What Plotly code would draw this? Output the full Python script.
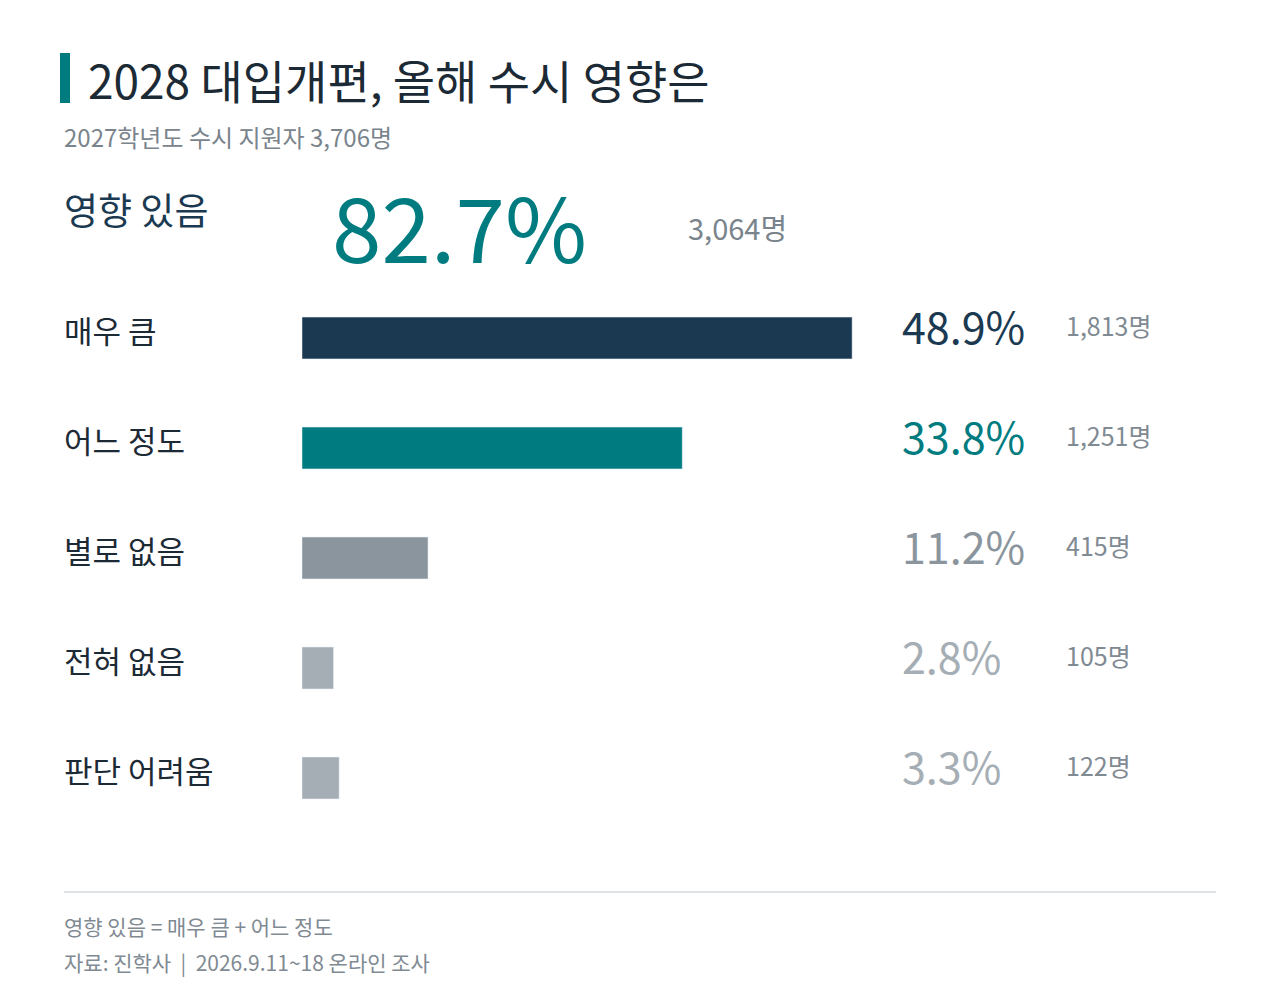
import plotly.graph_objects as go

categories = ["매우 큼", "어느 정도", "별로 없음", "전혀 없음", "판단 어려움"]
percents = [48.9, 33.8, 11.2, 2.8, 3.3]
counts = ["1,813명", "1,251명", "415명", "105명", "122명"]
bar_colors = ["#1b3a52", "#007c80", "#8a959e", "#a6aeb5", "#a6aeb5"]
pct_colors = ["#1b3a52", "#007c80", "#8a959e", "#a6aeb5", "#a6aeb5"]

FONT = "Noto Sans CJK KR"
W, H = 1280, 996
# page renders with a small offset; compensate
OX, OY = 8, 9

def px(x):
    return (x - OX) / W

def py(y):
    return 1 - (y - OY) / H

fig = go.Figure()
fig.add_trace(go.Bar(
    x=percents, y=list(range(len(categories))), orientation="h",
    marker_color=bar_colors, width=0.38, hoverinfo="skip",
))

ann = []
def txt(x, y, s, size, color, yref="paper", xanchor="left"):
    ann.append(dict(x=x, y=y, xref="paper", yref=yref, text=s, showarrow=False,
                    xanchor=xanchor, yanchor="middle",
                    font=dict(family=FONT, size=size, color=color)))

txt(px(86), py(80), "2028 대입개편, 올해 수시 영향은", 46, "#1c2a36")
txt(px(62), py(137), "2027학년도 수시 지원자 3,706명", 24, "#7a848c")
txt(px(62), py(210), "영향 있음", 37, "#1b3a52")
txt(px(330), py(225), "82.7%", 89, "#007c80")
txt(px(686), py(228), "3,064명", 29, "#7a848c")

for i, (c, p, n) in enumerate(zip(categories, percents, counts)):
    txt(px(62), i - 0.08, c, 31, "#1c2a36", yref="y")
    txt(px(900), i - 0.12, f"{p}%", 43, pct_colors[i], yref="y")
    txt(px(1064), i - 0.12, n, 25, "#7f8a93", yref="y")

txt(px(62), py(927), "영향 있음 = 매우 큼 + 어느 정도", 21, "#7f8a93")
txt(px(62), py(963), "자료: 진학사  |  2026.9.11~18 온라인 조사", 21, "#7f8a93")

fig.update_layout(
    width=W, height=H, margin=dict(l=0, r=0, t=0, b=0),
    plot_bgcolor="white", paper_bgcolor="white", showlegend=False,
    annotations=ann,
    xaxis=dict(domain=[px(302), px(302 + 60 * 11.25)], range=[0, 60], visible=False, fixedrange=True),
    yaxis=dict(domain=[py(834), py(284)], range=[4.5, -0.5], visible=False, fixedrange=True),
    shapes=[
        dict(type="rect", xref="paper", yref="paper", x0=px(60), x1=px(70), y0=py(104), y1=py(54),
             fillcolor="#007c80", line_width=0),
        dict(type="line", xref="paper", yref="paper", x0=px(64), x1=px(1216), y0=py(893), y1=py(893),
             line=dict(color="#d5d9dc", width=1.5)),
    ],
)
fig.write_html("out.html")
